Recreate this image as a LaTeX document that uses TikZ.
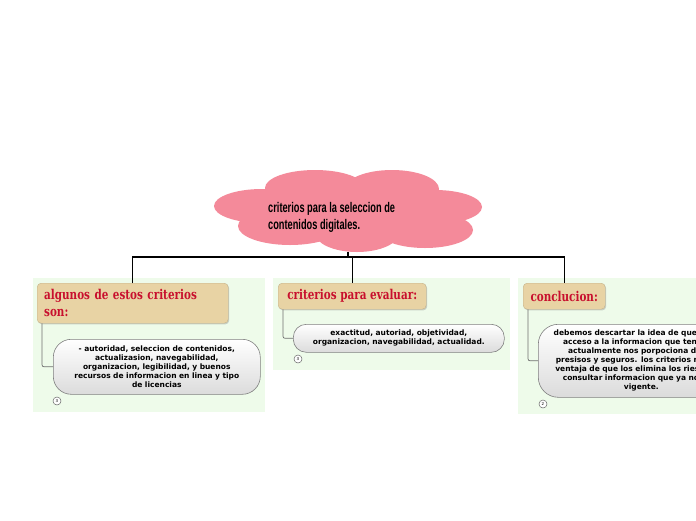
\documentclass[tikz,border=0pt]{standalone}
\usepackage{fontspec}
\usetikzlibrary{shadows}
\newfontfamily\cloudfont[FakeStretch=0.66]{Liberation Sans}
\newfontfamily\topicfont[FakeStretch=0.77]{DejaVu Serif}
\newfontfamily\subfont{DejaVu Sans}
\definecolor{cloudpink}{HTML}{F48A9A}
\definecolor{panelgreen}{HTML}{EEFBEA}
\definecolor{topicfill}{HTML}{E8D3A4}
\definecolor{topicred}{HTML}{C8102E}
\definecolor{linegray}{HTML}{707070}
\tikzset{
  lobe/.style={fill=cloudpink, draw=none},
  panel/.style={fill=panelgreen, draw=none, anchor=north west, inner sep=0pt},
  topicbox/.style={fill=topicfill, draw=topicfill!85!black, line width=0.4pt, rounded corners=4pt,
    anchor=north west, inner xsep=7pt, inner ysep=0pt,
    font=\topicfont\bfseries\fontsize{13.5}{16.5}\selectfont, text=topicred,
    drop shadow={shadow xshift=1pt, shadow yshift=-1.2pt, opacity=0.35}},
  subbox/.style={top color=white, bottom color=black!14, draw=black!50, line width=0.6pt,
    anchor=north west, inner sep=0pt, align=center,
    font=\subfont\bfseries\fontsize{7.5}{9}\selectfont},
  subline/.style={draw=linegray, line width=0.7pt, rounded corners=2pt},
  mainline/.style={draw=black, line width=1.3pt},
  circ/.style={circle, draw=black!60, fill=white, line width=0.5pt, minimum size=8pt, inner sep=0pt,
    font=\subfont\fontsize{4}{4}\selectfont},
}
\begin{document}
\begin{tikzpicture}[x=1pt,y=-1pt]
\useasboundingbox (0,0) rectangle (696,520);
\clip (0,0) rectangle (696,520);
\fill[white] (0,0) rectangle (696,520);

% cloud
\fill[lobe] (315,188) ellipse [x radius=50, y radius=18];
\fill[lobe] (392,189) ellipse [x radius=47, y radius=19];
\fill[lobe] (262,206) ellipse [x radius=48, y radius=17];
\fill[lobe] (435,207) ellipse [x radius=47, y radius=17];
\fill[lobe] (290,226) ellipse [x radius=52, y radius=19];
\fill[lobe] (357,233) ellipse [x radius=42, y radius=19];
\fill[lobe] (425,230) ellipse [x radius=48, y radius=18];
\fill[lobe] (350,210) ellipse [x radius=90, y radius=26];
\node[anchor=west, align=left, inner sep=0pt, font=\cloudfont\bfseries\fontsize{14}{17}\selectfont] (ct) at (268,217)
  {criterios para la seleccion de\\contenidos digitales.};
\coordinate (cb) at (348,252);
\coordinate (hub) at (348,257);

% panels
\node[panel, minimum width=232, minimum height=134] (p1) at (33,278) {};
\node[panel, minimum width=237, minimum height=92] (p2) at (273,278) {};
\node[panel, minimum width=180, minimum height=136] (p3) at (518,278) {};

% topics
\node[topicbox, minimum width=191, minimum height=40, text width=177, align=left] (t1) at (37,283)
  {algunos de estos criterios\\son:};
\node[topicbox, minimum width=148, minimum height=26, align=center] (t2) at (278,283) {criterios para evaluar:};
\node[topicbox, minimum width=82, minimum height=26, align=center] (t3) at (523,283) {conclucion:};

% main connectors
\draw[mainline] (cb) -- (hub);
\draw[mainline] (t1.north) |- (hub) -| (t3.north);
\draw[mainline] (t2.north |- hub) -- (t2.north);

% subtopics
\node[subbox, minimum width=207, minimum height=55, rounded corners=18pt, text width=200] (s1) at (53,339)
  {- autoridad, seleccion de contenidos,\\actualizasion, navegabilidad,\\organizacion, legibilidad, y buenos\\recursos de informacion en linea y tipo\\de licencias};
\node[subbox, minimum width=211, minimum height=28, rounded corners=13pt, text width=205] (s2) at (293,324)
  {exactitud, autoriad, objetividad,\\organizacion, navegabilidad, actualidad.};
\node[subbox, minimum width=206, minimum height=73, rounded corners=20pt, text width=205] (s3) at (538,324)
  {debemos descartar la idea de que todo el\\acceso a la informacion que tenemos\\actualmente nos porpociona datos\\presisos y seguros. los criterios nos dan\\ventaja de que los elimina los riesgos de\\consultar informacion que ya no esta\\vigente.};

\draw[subline] ([xshift=5pt]t1.south west) |- (s1.west);
\draw[subline] ([xshift=5pt]t2.south west) |- (s2.west);
\draw[subline] ([xshift=5pt]t3.south west) |- (s3.west);

% counters
\node[circ] (c1) at (57,401) {3};
\node[circ] (c2) at (298,359) {3};
\node[circ] (c3) at (543,404) {2};
\end{tikzpicture}
\end{document}
